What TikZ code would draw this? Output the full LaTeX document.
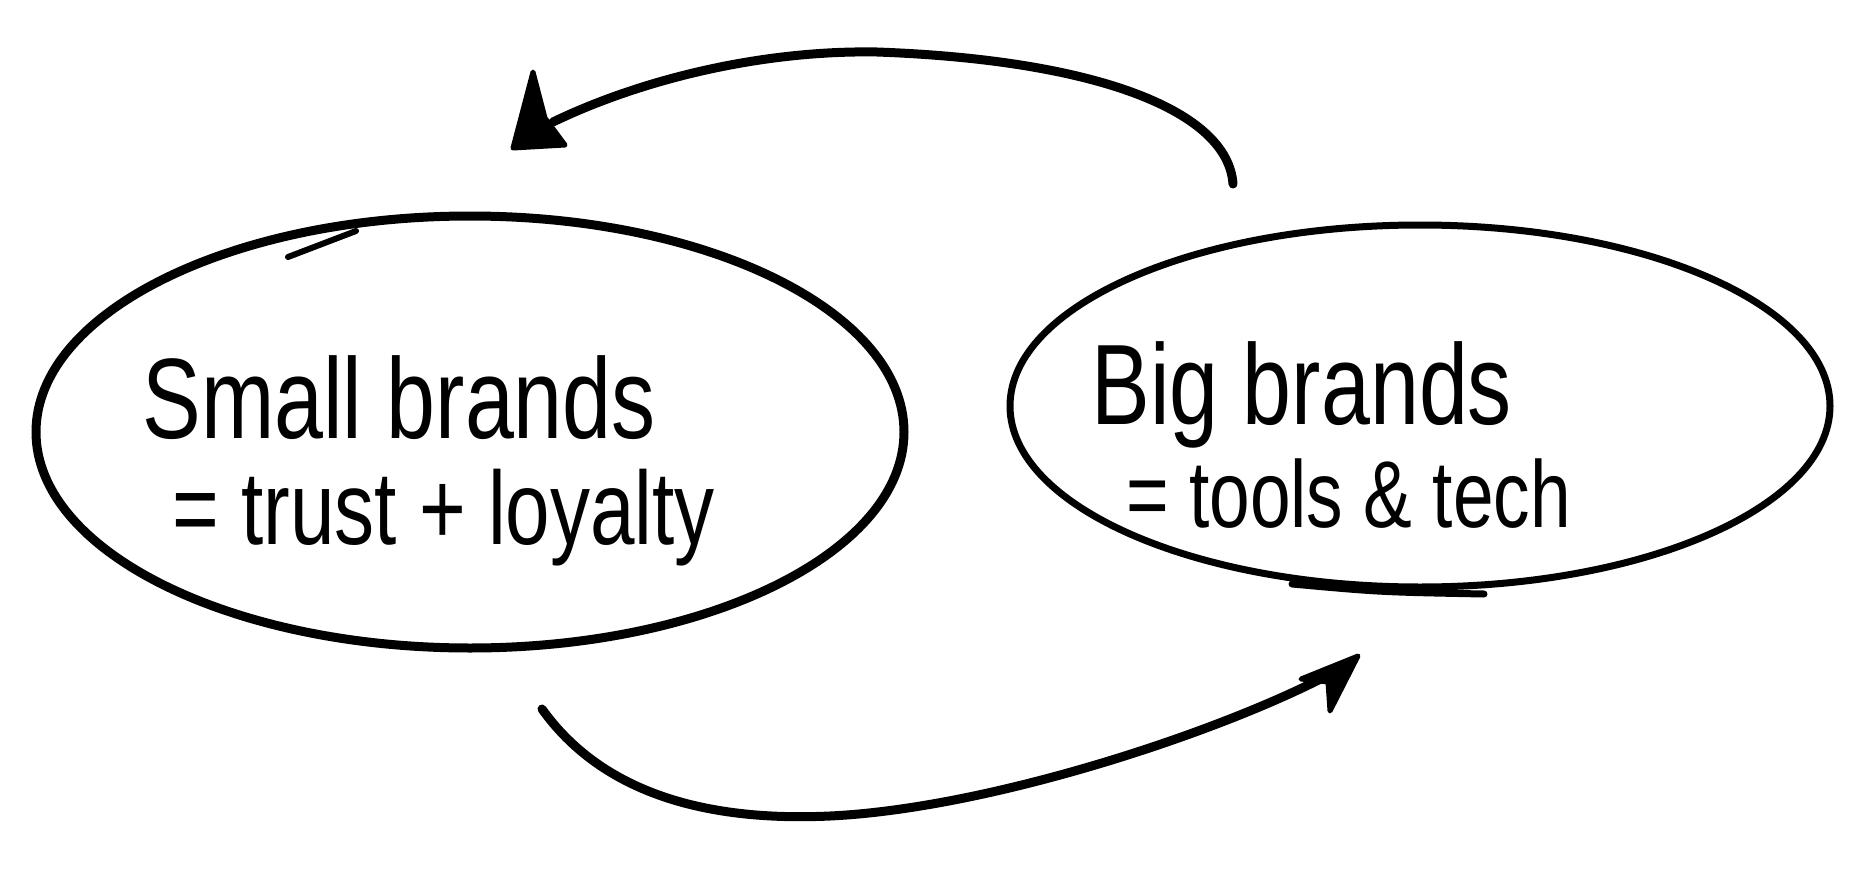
\documentclass[tikz,border=0pt]{standalone}
\usepackage{graphicx}
\usepackage{fontspec}
\setmainfont{Liberation Sans}
\usetikzlibrary{shapes.geometric}
\tikzset{
  sketch/.style={draw=black, line cap=round, line join=round},
  oval/.style={sketch, ellipse, inner sep=0pt},
  arrowline/.style={sketch, line width=4.5pt},
  head/.style={fill=black, draw=black, line width=2.5pt, line join=round},
  label/.style={anchor=base west, inner sep=0pt, text=black}
}
\newcommand{\hand}[2]{{\fontsize{#1}{#1}\selectfont\scalebox{1}[1.3]{#2}}}
\begin{document}
\begin{tikzpicture}[x=0.5pt, y=-0.5pt]
\useasboundingbox[fill=white] (0,0) rectangle (1859,878);

% ellipses
\node[oval, line width=4.5pt, minimum width=434pt, minimum height=216pt] (small) at (470,432) {};
\node[oval, line width=3.5pt, minimum width=410pt, minimum height=181pt] (big) at (1420,406) {};

% sketch overlap strokes
\coordinate (s1) at (288,257);
\coordinate (s2) at (356,231);
\draw[sketch, line width=3pt] (s1) -- (s2);
\coordinate (b1) at (1292,584);
\coordinate (b2) at (1484,594);
\draw[sketch, line width=3.5pt] (b1) .. controls (1380,592) .. (b2);

% texts
\node[label] (t1) at (142,438) {\hand{44pt}{Small brands}};
\node[label] (t2) at (172,544) {\hand{40pt}{= trust + loyalty}};
\node[label] (t3) at (1091,424) {\hand{44pt}{Big brands}};
\node[label] (t4) at (1126,527) {\hand{36.5pt}{= tools \& tech}};

% top arrow (big -> small)
\coordinate (ta) at (1233,184);
\coordinate (tb) at (553,122);
\draw[arrowline] (ta) .. controls (1228,112) and (1100,60) .. (877,52)
      .. controls (760,50) and (640,80) .. (tb);
\coordinate (th1) at (533,72);
\coordinate (th2) at (513,148);
\coordinate (th3) at (565,145);
\filldraw[head] (th1) -- (th2) -- (th3) -- (545,118) -- cycle;

% bottom arrow (small -> big)
\coordinate (ba) at (542,709);
\coordinate (bb) at (1350,663);
\draw[arrowline] (ba) .. controls (600,790) and (700,822) .. (830,816)
      .. controls (1000,808) and (1250,722) .. (bb);
\coordinate (bh1) at (1358,656);
\coordinate (bh2) at (1301,679);
\coordinate (bh3) at (1330,711);
\filldraw[head] (bh2) -- (bh1) -- (bh3) -- (1328,682) -- cycle;
\end{tikzpicture}
\end{document}
